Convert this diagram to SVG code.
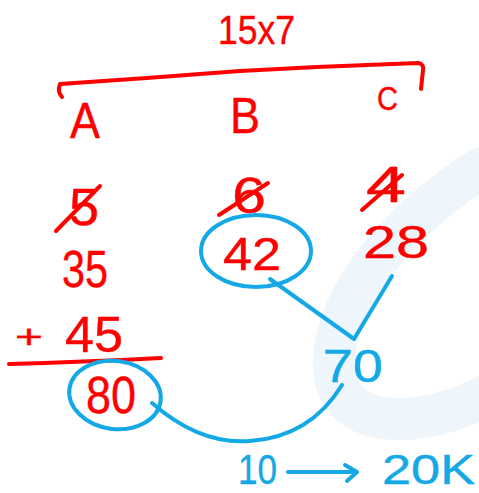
<svg xmlns="http://www.w3.org/2000/svg" width="479" height="493" viewBox="0 0 479 493">
<style>
.r{fill:#ff0000;font-family:"Liberation Sans",Arial,sans-serif;stroke:#ff0000;stroke-width:0.4}
.b{fill:#14a9e6;font-family:"Liberation Sans",Arial,sans-serif;stroke:#14a9e6;stroke-width:0.4}
.rl{fill:none;stroke:#ff0000;stroke-width:4;stroke-linecap:round;stroke-linejoin:round}
.bl{fill:none;stroke:#14a9e6;stroke-width:4;stroke-linecap:round;stroke-linejoin:round}
</style>
<rect width="479" height="493" fill="#ffffff"/>
<g id="watermark">
<path d="M505,385 C430,432 335,435 334,365 C333,295 405,215 482,168" fill="none" stroke="#eef6fc" stroke-width="42" stroke-linecap="round"/>
</g>
<g id="title"><text class="r" x="218" y="44" font-size="40" textLength="77" lengthAdjust="spacingAndGlyphs">15x7</text></g>
<g id="bracket"><path class="rl" d="M62,97 Q57,92 60,84 Q150,78 240,71 Q330,66 418,63 Q424,64 423,70 L421,89"/></g>
<g id="colA"><text class="r" x="70" y="138" font-size="50" textLength="30" lengthAdjust="spacingAndGlyphs">A</text></g>
<g id="colB"><text class="r" x="230" y="133" font-size="50" textLength="30" lengthAdjust="spacingAndGlyphs">B</text></g>
<g id="colC"><text class="r" x="377" y="110" font-size="34" textLength="21" lengthAdjust="spacingAndGlyphs">C</text></g>
<g id="a5"><text class="r" x="69" y="225" font-size="52" textLength="30" lengthAdjust="spacingAndGlyphs">5</text><path class="rl" d="M56,231 L100,186"/></g>
<g id="a35"><text class="r" x="62" y="287" font-size="52" textLength="46" lengthAdjust="spacingAndGlyphs">35</text></g>
<g id="a45"><text class="r" x="15" y="348" font-size="34" textLength="28" lengthAdjust="spacingAndGlyphs">+</text><text class="r" x="65" y="352" font-size="50" textLength="58" lengthAdjust="spacingAndGlyphs">45</text></g>
<g id="sumline"><path class="rl" d="M9,364 Q80,362 161,358"/></g>
<g id="a80"><text class="r" x="86" y="413" font-size="51" textLength="50" lengthAdjust="spacingAndGlyphs">80</text><ellipse class="bl" cx="115" cy="395" rx="46" ry="34" transform="rotate(8 115 395)"/></g>
<g id="b6"><text class="r" x="232" y="213" font-size="50" textLength="34" lengthAdjust="spacingAndGlyphs">6</text><path class="rl" d="M219,215 L268,183"/></g>
<g id="b42"><text class="r" x="223" y="270" font-size="47" textLength="58" lengthAdjust="spacingAndGlyphs">42</text><ellipse class="bl" cx="256" cy="251" rx="55" ry="36"/></g>
<g id="c4"><text class="r" x="366" y="202" font-size="50" textLength="40" lengthAdjust="spacingAndGlyphs">4</text><path class="rl" d="M362,210 L402,175"/></g>
<g id="c28"><text class="r" x="363" y="258" font-size="47" textLength="66" lengthAdjust="spacingAndGlyphs">28</text></g>
<g id="n70"><text class="b" x="323" y="382" font-size="46" textLength="60" lengthAdjust="spacingAndGlyphs">70</text></g>
<g id="connectors">
<path class="bl" d="M270,279 L354,339 L392,276"/>
<path class="bl" d="M152,403 Q200,445 250,441 Q310,437 342,385"/>
<path class="bl" d="M288,472 L355,472 M345,465 L357,472 L347,481"/>
</g>
<g id="n10"><text class="b" x="238" y="484" font-size="42" textLength="39" lengthAdjust="spacingAndGlyphs">10</text></g>
<g id="n20k"><text class="b" x="382" y="484" font-size="42" textLength="93" lengthAdjust="spacingAndGlyphs">20K</text></g>
</svg>
